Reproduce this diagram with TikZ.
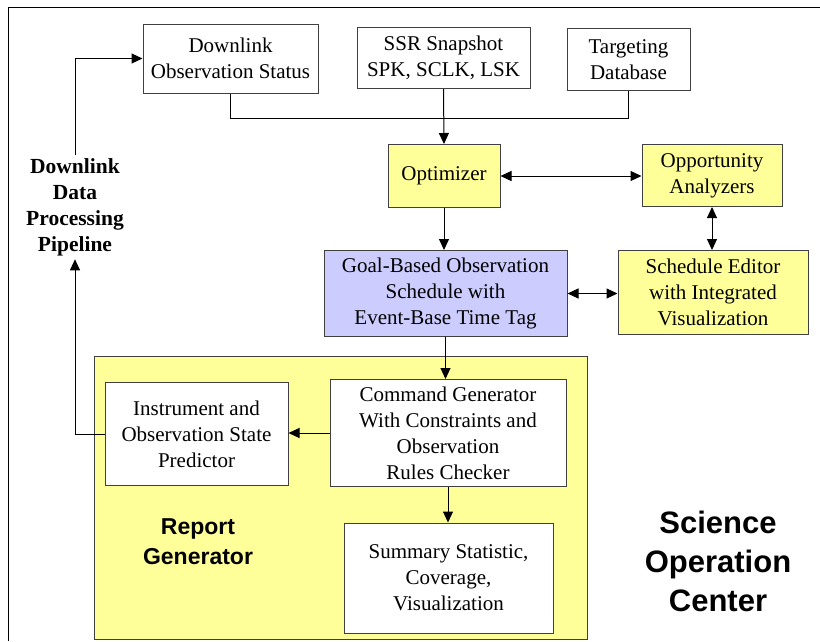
\documentclass[tikz,border=0pt]{standalone}
\usepackage{fontspec}
\setmainfont{Liberation Serif}
\setsansfont{Liberation Sans}
\usetikzlibrary{arrows.meta}

\definecolor{boxline}{RGB}{64,64,64}
\definecolor{padyellow}{RGB}{255,255,153}
\definecolor{goalblue}{RGB}{204,204,255}

\tikzset{
  blk/.style={draw=boxline,line width=1pt,fill=white,align=center,inner sep=0pt,
    font=\fontsize{21}{26}\selectfont},
  ylw/.style={blk,fill=padyellow},
  link/.style={line width=1pt},
}

\begin{document}
\begin{tikzpicture}[x=1pt,y=-1pt,>={Triangle[length=11pt,width=10pt]}]
 \useasboundingbox (0,0) rectangle (820,641);
 % frame of the whole centre (runs off at right and bottom)
 \draw[line width=1.5pt] (8.5,641) -- (8.5,7.5) -- (820,7.5);

 % inputs
 \node[blk,minimum width=175pt,minimum height=69pt] (dos) at (230.5,58.5) {Downlink\\Observation Status};
 \node[blk,minimum width=173pt,minimum height=61pt] (ssr) at (443.5,58) {SSR Snapshot\\SPK, SCLK, LSK};
 \node[blk,minimum width=123pt,minimum height=62pt] (tdb) at (628.5,59.5) {Targeting\\Database};
 \coordinate (mrg) at (443.5,118);

 % planning
 \node[ylw,minimum width=112pt,minimum height=63pt] (opt) at (444,176) {Optimizer};
 \node[ylw,minimum width=140pt,minimum height=62pt] (opp) at (712,175.5) {Opportunity\\Analyzers};
 \node[blk,fill=goalblue,minimum width=243pt,minimum height=86pt] (gbs) at (445.5,293.5) {Goal-Based Observation\\Schedule with\\Event-Base Time Tag};
 \node[ylw,minimum width=190pt,minimum height=84pt] (sed) at (713,292.5) {Schedule Editor\\with Integrated\\Visualization};

 % report generator
 \node[ylw,minimum width=493pt,minimum height=283pt] (rgp) at (340.5,497.5) {};
 \node[font=\sffamily\bfseries\fontsize{23}{30}\selectfont,align=center] (rgl) at (198,542) {Report\\Generator};
 \node[blk,minimum width=183pt,minimum height=103pt] (isp) at (196.5,434) {Instrument and\\Observation State\\Predictor};
 \node[blk,minimum width=236pt,minimum height=107pt] (cmd) at (448,433) {Command Generator\\With Constraints and\\Observation\\Rules Checker};
 \node[blk,minimum width=209pt,minimum height=110pt] (sum) at (448.5,578) {Summary Statistic,\\Coverage,\\Visualization};

 \node[font=\bfseries\fontsize{21.5}{26}\selectfont,align=center] (ddp) at (75,207) {Downlink\\Data\\Processing\\Pipeline};
 \node[font=\sffamily\bfseries\fontsize{31}{39}\selectfont,align=center] (soc) at (718,561.5) {Science\\Operation\\Center};

 % connectors
 \draw[link] (dos.south) |- (mrg);
 \draw[link] (tdb.south) |- (mrg);
 \draw[link,->] (ssr.south) -- (opt.north);
 \draw[link,<->] (opt.east) -- (opt.east -| opp.west);
 \draw[link,<->] (opp.south) -- (opp.south |- sed.north);
 \draw[link,->] (opt.south) -- (opt.south |- gbs.north);
 \draw[link,<->] (gbs.east) -- (gbs.east -| sed.west);
 \draw[link,->] (gbs.south) -- (gbs.south |- cmd.north);
 \draw[link,->] (cmd.west) -- (cmd.west -| isp.east);
 \draw[link,->] (cmd.south) -- (cmd.south |- sum.north);
 \draw[link,->] (isp.west) -| (ddp.south);
 \draw[link,->] (ddp.north) |- (dos.west);
\end{tikzpicture}
\end{document}
